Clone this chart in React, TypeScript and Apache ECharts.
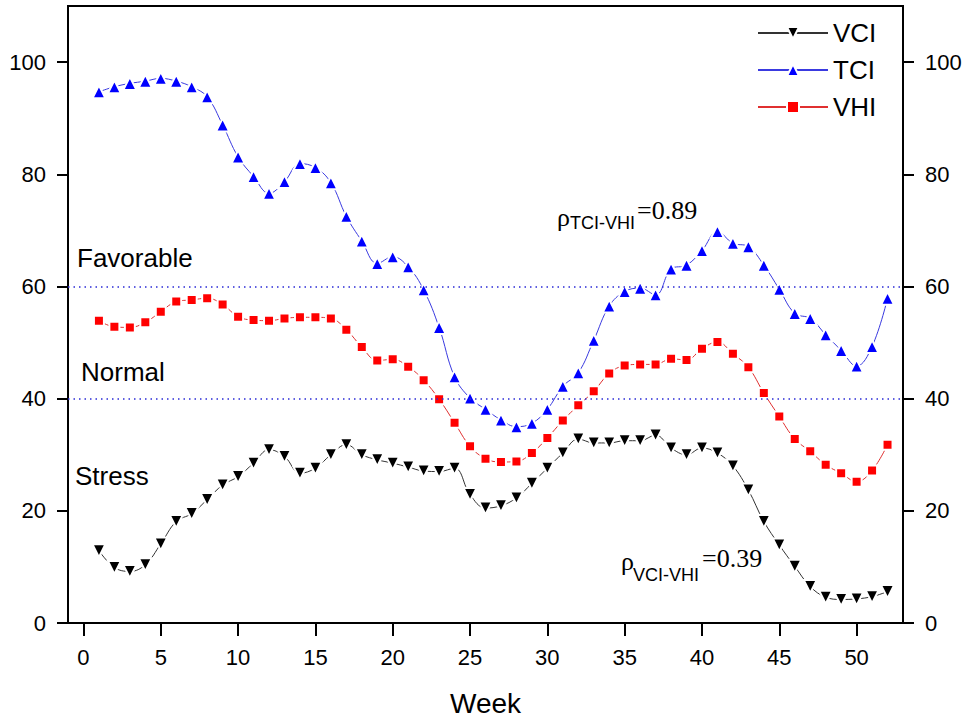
import React, { useEffect, useRef } from "react";
import * as echarts from "echarts";

const weeks: number[] = Array.from({ length: 52 }, (_, i) => i + 1);

const vci: number[] = [
  12.9, 9.9, 9.2, 10.4, 14.1, 18.1, 19.5, 22.0, 24.6, 26.1,
  28.5, 30.9, 29.7, 26.7, 27.6, 30.0, 31.8, 30.0, 29.1, 28.5,
  27.8, 27.1, 27.0, 27.6, 22.9, 20.5, 20.9, 22.3, 24.9, 27.6,
  30.3, 32.8, 32.1, 32.1, 32.5, 32.5, 33.5, 31.2, 30.0, 31.2,
  30.3, 28.0, 23.7, 18.1, 13.9, 10.1, 6.5, 4.6, 4.2, 4.3, 4.7, 5.6,
];

const tci: number[] = [
  94.7, 95.6, 96.2, 96.6, 97.1, 96.6, 95.6, 93.8, 88.8, 83.1,
  79.6, 76.6, 78.7, 81.9, 81.2, 78.5, 72.5, 68.1, 64.1, 65.3,
  63.5, 59.4, 52.7, 43.9, 40.1, 38.1, 36.2, 35.0, 35.6, 38.1,
  42.2, 44.6, 50.4, 56.5, 59.1, 59.7, 58.5, 63.1, 63.8, 66.4,
  69.8, 67.7, 67.1, 63.8, 59.5, 55.2, 54.3, 51.4, 48.6, 45.8, 49.3, 57.9,
];

const vhi: number[] = [
  53.9, 52.8, 52.7, 53.6, 55.5, 57.3, 57.6, 57.9, 56.8, 54.6,
  54.0, 53.9, 54.3, 54.5, 54.5, 54.3, 52.3, 49.2, 46.8, 47.0,
  45.7, 43.3, 39.9, 35.7, 31.5, 29.3, 28.7, 28.8, 30.3, 33.0,
  36.1, 38.8, 41.3, 44.5, 45.9, 46.1, 46.1, 47.1, 46.9, 48.9,
  50.1, 48.0, 45.6, 41.0, 36.8, 32.8, 30.6, 28.2, 26.7, 25.2, 27.2, 31.8,
];

const xTicks: number[] = [0, 5, 10, 15, 20, 25, 30, 35, 40, 45, 50];
const thresholds: number[] = [60, 40];
const zoneLabels: string[] = ["Favorable", "Normal", "Stress"];

const SANS = "'Liberation Sans', Arial, sans-serif";
const SERIF = "'Liberation Serif', 'Times New Roman', serif";

export default function App() {
  const ref = useRef<HTMLDivElement>(null);

  useEffect(() => {
    if (!ref.current) return;
    const chart = echarts.init(ref.current, null, { renderer: "svg" });

    const pairs = (arr: number[]) => arr.map((v, i) => [weeks[i], v]);

    const yAxisCommon = {
      type: "value" as const,
      min: 0,
      max: 110,
      interval: 20,
      splitLine: { show: false },
      axisLine: { show: true, onZero: false, lineStyle: { color: "#000", width: 2 } },
      axisTick: { show: true, length: 11, lineStyle: { color: "#000", width: 2 } },
      axisLabel: {
        showMaxLabel: false,
        color: "#000",
        fontSize: 22,
        fontFamily: SANS,
        margin: 22,
      },
    };

    const option: any = {
      animation: false,
      backgroundColor: "#fff",
      grid: {
        left: 68,
        right: 65,
        top: 6,
        bottom: 96,
        outerBoundsMode: "none",
        containLabel: false,
        show: true,
        borderColor: "#000",
        borderWidth: 2,
        backgroundColor: "transparent",
      },
      legend: {
        orient: "vertical",
        left: 752,
        top: 15,
        itemWidth: 70,
        itemHeight: 15,
        itemGap: 11,
        textStyle: { color: "#000", fontSize: 26, fontFamily: SANS },
        data: ["VCI", "TCI", "VHI"],
      },
      xAxis: {
        type: "value",
        min: -1,
        max: 53,
        name: "Week",
        nameLocation: "middle",
        nameGap: 66,
        nameTextStyle: { color: "#000", fontSize: 28, fontFamily: SANS },
        splitLine: { show: false },
        axisLine: { show: true, onZero: false, lineStyle: { color: "#000", width: 2 } },
        axisTick: {
          show: true,
          length: 13,
          customValues: xTicks,
          lineStyle: { color: "#000", width: 2 },
        },
        axisLabel: {
          customValues: xTicks,
          color: "#000",
          fontSize: 22,
          fontFamily: SANS,
          margin: 23,
        },
      },
      yAxis: [
        { ...yAxisCommon, position: "left" },
        { ...yAxisCommon, position: "right" },
      ],
      series: [
        {
          name: "VCI",
          type: "line",
          smooth: 0.4,
          data: pairs(vci),
          symbol: "triangle",
          symbolRotate: 180,
          symbolSize: 13,
          lineStyle: { color: "#333", width: 1 },
          itemStyle: { color: "#000", borderColor: "#fff", borderWidth: 2 },
          z: 3,
        },
        {
          name: "TCI",
          type: "line",
          smooth: 0.4,
          data: pairs(tci),
          symbol: "triangle",
          symbolSize: 13,
          lineStyle: { color: "#3a3ae0", width: 1 },
          itemStyle: { color: "#0000ff", borderColor: "#fff", borderWidth: 2 },
          markLine: {
            silent: true,
            symbol: "none",
            label: { show: false },
            lineStyle: { color: "#2b2bd6", type: [1.5, 4], width: 1.5 },
            data: thresholds.map((v) => ({ yAxis: v })),
          },
          z: 3,
        },
        {
          name: "VHI",
          type: "line",
          smooth: 0.4,
          data: pairs(vhi),
          symbol: "rect",
          symbolSize: 10,
          lineStyle: { color: "#e03030", width: 1 },
          itemStyle: { color: "#ff0000", borderColor: "#fff", borderWidth: 2 },
          z: 3,
        },
      ],
      graphic: [
        {
          type: "text",
          left: 77,
          top: 245,
          style: { text: zoneLabels[0], fontSize: 26, fontFamily: SANS, fill: "#000" },
        },
        {
          type: "text",
          left: 81,
          top: 359,
          style: { text: zoneLabels[1], fontSize: 26, fontFamily: SANS, fill: "#000" },
        },
        {
          type: "text",
          left: 75,
          top: 463,
          style: { text: zoneLabels[2], fontSize: 26, fontFamily: SANS, fill: "#000" },
        },
        // rho TCI-VHI
        {
          type: "text",
          x: 557,
          y: 217,
          style: { text: "ρ", fontSize: 26, fontFamily: SERIF, fill: "#000", verticalAlign: "middle" },
        },
        {
          type: "text",
          x: 570,
          y: 223,
          style: { text: "TCI-VHI", fontSize: 18, fontFamily: SANS, fill: "#000", verticalAlign: "middle" },
        },
        {
          type: "text",
          x: 637,
          y: 210,
          style: { text: "=0.89", fontSize: 26, fontFamily: SERIF, fill: "#000", verticalAlign: "middle" },
        },
        // rho VCI-VHI
        {
          type: "text",
          x: 621,
          y: 561,
          style: { text: "ρ", fontSize: 26, fontFamily: SERIF, fill: "#000", verticalAlign: "middle" },
        },
        {
          type: "text",
          x: 633,
          y: 575,
          style: { text: "VCI-VHI", fontSize: 18, fontFamily: SANS, fill: "#000", verticalAlign: "middle" },
        },
        {
          type: "text",
          x: 702,
          y: 558,
          style: { text: "=0.39", fontSize: 26, fontFamily: SERIF, fill: "#000", verticalAlign: "middle" },
        },
      ],
    };

    chart.setOption(option);
    return () => {
      chart.dispose();
    };
  }, []);

  return (
    <div
      ref={ref}
      style={{ position: "fixed", left: 0, top: 0, width: 968, height: 719, background: "#fff" }}
    />
  );
}
